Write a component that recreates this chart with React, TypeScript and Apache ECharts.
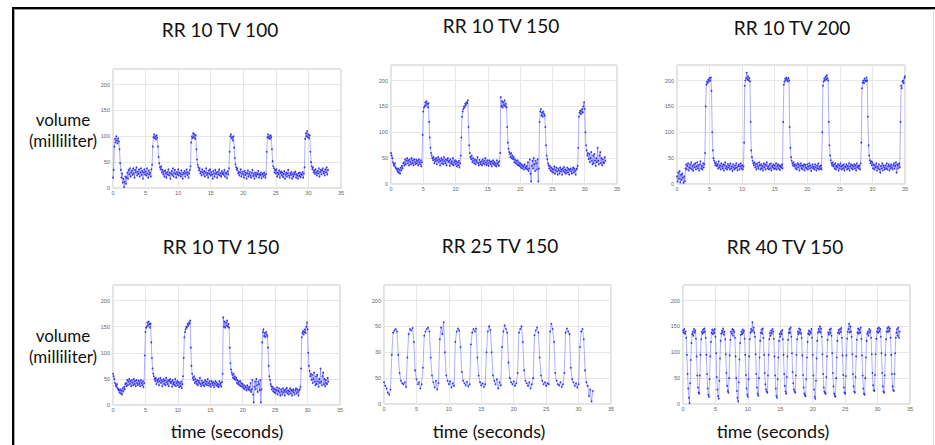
import React, { useEffect, useRef } from "react";
import * as echarts from "echarts";

// ---------- text content ----------
const PANEL_TITLES = ["RR 10 TV 100", "RR 10 TV 150", "RR 10 TV 200", "RR 10 TV 150", "RR 25 TV 150", "RR 40 TV 150"];
const Y_LABEL_LINES = ["volume", "(milliliter)"];
const X_LABEL = "time (seconds)";

// ---------- tick labels ----------
const Y_TICK_VALUES = [0, 50, 100, 150, 200];
const Y_TICK_LABELS_STD = ["0", "50", "100", "150", "200"];
const Y_TICK_LABELS_RR25 = ["0", "50", "30", "50", "200"]; // as printed in the reference
const X_TICK_LABELS = ["0", "5", "10", "15", "20", "25", "30", "35"];
const Y_MAX = 230;
const X_MAX = 35;

// ---------- sample spacing (seconds) ----------
const STEP_RR10 = 0.1;
const STEP_RR25 = 0.2;
const STEP_RR40 = 0.1;

// ---------- series values (milliliter), one row per second ----------
const rr10tv100 = [
  20, 35, 80, 95, 88, 100, 92, 86, 96, 90,
  75, 48, 35, 20, 28, 10, 18, 2, 12, 22,
  8, 20, 30, 18, 35, 26, 38, 22, 30, 34,
  25, 38, 28, 20, 35, 30, 40, 24, 32, 27,
  36, 22, 30, 38, 25, 33, 18, 30, 36, 26,
  32, 24, 38, 28, 20, 34, 26, 30, 22, 36,
  45, 80, 98, 104, 96, 100, 94, 102, 97, 80,
  60, 48, 40, 36, 42, 30, 35, 26, 32, 22,
  34, 28, 20, 31, 26, 36, 24, 30, 18, 28,
  33, 25, 38, 22, 29, 35, 27, 20, 31, 26,
  36, 24, 30, 28, 22, 34, 26, 18, 30, 27,
  33, 22, 29, 36, 25, 31, 20, 28, 35, 42,
  88, 100, 96, 106, 98, 104, 95, 102, 75, 55,
  45, 40, 34, 38, 28, 32, 24, 36, 30, 26,
  33, 22, 30, 38, 25, 29, 20, 34, 27, 36,
  24, 31, 26, 18, 33, 28, 22, 35, 27, 30,
  20, 32, 26, 36, 24, 29, 22, 33, 27, 30,
  25, 35, 22, 30, 28, 19, 33, 26, 38, 70,
  100, 104, 96, 98, 92, 100, 78, 58, 46, 40,
  35, 38, 28, 32, 24, 30, 36, 22, 28, 32,
  26, 20, 33, 25, 30, 18, 28, 34, 22, 27,
  31, 24, 20, 29, 35, 23, 27, 18, 30, 25,
  22, 29, 26, 33, 20, 27, 24, 30, 19, 26,
  28, 22, 30, 25, 20, 27, 70, 98, 104, 96,
  100, 95, 102, 98, 75, 52, 42, 38, 30, 35,
  28, 36, 22, 30, 26, 34, 20, 29, 32, 24,
  30, 21, 27, 33, 18, 26, 30, 22, 28, 35,
  24, 20, 29, 25, 31, 18, 27, 22, 30, 26,
  32, 20, 27, 24, 18, 29, 23, 30, 21, 27,
  25, 31, 20, 28, 40, 95, 106, 100, 110, 98,
  104, 96, 102, 70, 50, 42, 36, 40, 30, 34,
  27, 36, 30, 24, 33, 28, 38, 22, 31, 35,
  26, 34, 38, 28, 32, 24, 36, 30, 40, 26,
  35,
];

const rr10tv150 = [
  60, 55, 50, 42, 38, 35, 40, 32, 30, 28,
  24, 30, 22, 28, 20, 32, 26, 35, 30, 40,
  42, 36, 48, 38, 45, 50, 40, 46, 36, 48,
  43, 38, 50, 40, 46, 36, 48, 42, 38, 47,
  40, 45, 36, 48, 42, 38, 46, 34, 42, 95,
  140, 148, 150, 158, 152, 160, 155, 148, 156, 120,
  90, 70, 60, 55, 50, 46, 52, 40, 48, 44,
  50, 38, 46, 52, 42, 48, 36, 45, 50, 40,
  47, 38, 52, 44, 40, 48, 36, 46, 50, 42,
  45, 35, 48, 40, 44, 38, 50, 36, 42, 46,
  38, 44, 34, 42, 36, 45, 32, 40, 55, 90,
  130, 140, 145, 150, 148, 155, 152, 158, 156, 162,
  110, 75, 60, 52, 48, 55, 42, 50, 45, 40,
  48, 38, 46, 42, 52, 40, 36, 47, 42, 38,
  44, 36, 48, 40, 45, 38, 50, 42, 37, 46,
  40, 35, 46, 42, 38, 44, 34, 41, 46, 38,
  43, 36, 40, 34, 46, 38, 42, 35, 44, 60,
  168, 150, 160, 148, 158, 152, 162, 150, 155, 148,
  110, 80, 68, 62, 58, 52, 60, 50, 55, 48,
  52, 42, 48, 40, 45, 38, 46, 36, 42, 35,
  40, 32, 38, 30, 36, 34, 28, 38, 32, 30,
  35, 28, 42, 25, 30, 48, 20, 5, 35, 45,
  30, 50, 38, 25, 45, 40, 28, 48, 5, 30,
  120, 140, 145, 132, 138, 130, 140, 135, 132, 110,
  75, 55, 48, 40, 36, 30, 35, 26, 32, 24,
  30, 22, 28, 34, 20, 27, 32, 24, 18, 30,
  26, 20, 32, 24, 28, 18, 30, 25, 33, 22,
  28, 20, 26, 32, 22, 29, 18, 27, 30, 24,
  20, 28, 32, 22, 30, 25, 18, 28, 30, 35,
  70, 130, 138, 142, 135, 140, 145, 138, 150, 158,
  145, 100, 75, 65, 55, 60, 48, 58, 42, 50,
  62, 45, 38, 55, 40, 58, 45, 35, 50, 42,
  70, 45, 38, 55, 62, 40, 50, 36, 48, 42,
  40, 52, 45,
];

const rr10tv200 = [
  15, 5, 22, 10, 25, 3, 18, 8, 20, 12,
  2, 15, 5, 30, 38, 28, 35, 40, 26, 32,
  38, 30, 42, 28, 35, 25, 38, 32, 40, 28,
  34, 42, 30, 36, 26, 38, 44, 30, 35, 28,
  40, 32, 38, 60, 150, 192, 198, 195, 202, 198,
  205, 200, 206, 180, 100, 65, 50, 45, 40, 36,
  42, 35, 38, 30, 44, 32, 36, 28, 40, 34,
  30, 38, 26, 36, 42, 30, 34, 28, 39, 32,
  36, 28, 40, 30, 34, 25, 38, 32, 28, 36,
  30, 40, 32, 26, 35, 38, 28, 34, 40, 30,
  36, 28, 34, 80, 190, 200, 205, 215, 202, 208,
  200, 205, 198, 120, 65, 52, 45, 40, 36, 42,
  32, 38, 28, 40, 34, 30, 42, 36, 28, 38,
  30, 35, 26, 40, 32, 38, 28, 36, 42, 30,
  34, 28, 38, 30, 40, 26, 35, 32, 38, 29,
  36, 30, 40, 28, 34, 38, 30, 36, 27, 35,
  32, 38, 30, 120, 192, 198, 204, 200, 206, 202,
  198, 205, 200, 110, 70, 52, 45, 40, 36, 42,
  34, 38, 30, 36, 28, 40, 32, 38, 26, 35,
  40, 30, 36, 28, 34, 38, 26, 37, 32, 30,
  38, 28, 34, 40, 30, 36, 25, 33, 38, 30,
  34, 28, 38, 32, 26, 36, 30, 40, 28, 34,
  30, 36, 28, 100, 190, 198, 204, 200, 207, 202,
  210, 204, 200, 120, 75, 55, 46, 40, 36, 42,
  34, 38, 30, 40, 28, 35, 32, 38, 26, 36,
  30, 40, 34, 28, 36, 30, 38, 26, 34, 32,
  38, 28, 35, 30, 40, 26, 34, 38, 30, 36,
  28, 34, 38, 30, 36, 26, 40, 32, 35, 30,
  36, 28, 40, 80, 185, 196, 200, 195, 204, 200,
  198, 206, 200, 130, 75, 55, 46, 40, 44, 36,
  42, 30, 38, 28, 36, 32, 40, 26, 34, 30,
  38, 28, 22, 35, 30, 40, 26, 36, 32, 28,
  36, 30, 40, 28, 34, 38, 26, 35, 30, 38,
  32, 28, 36, 40, 30, 35, 42, 22, 38, 30,
  36, 40, 32, 120, 190, 185, 198, 200, 195, 205,
  208,
];

const rr25tv150 = [
  42, 35, 30, 22, 18,
  28, 95, 138, 142, 145,
  140, 95, 60, 45, 40,
  38, 42, 33, 90, 135,
  145, 142, 147, 120, 65,
  48, 38, 42, 30, 38,
  70, 132, 140, 145, 148,
  140, 90, 55, 42, 32,
  45, 28, 40, 125, 148,
  135, 158, 100, 55, 45,
  38, 44, 32, 40, 35,
  120, 140, 146, 142, 110,
  62, 45, 40, 36, 43,
  34, 38, 115, 138, 145,
  140, 146, 90, 55, 42,
  36, 40, 33, 38, 100,
  140, 150, 143, 100, 55,
  45, 38, 48, 30, 42,
  36, 110, 140, 152, 145,
  138, 80, 50, 42, 38,
  44, 35, 40, 60, 138,
  145, 150, 120, 65, 45,
  40, 35, 42, 30, 38,
  50, 133, 142, 148, 138,
  90, 55, 45, 38, 42,
  35, 40, 38, 140, 155,
  145, 120, 60, 45, 38,
  36, 42, 33, 38, 60,
  138, 146, 140, 135, 70,
  48, 42, 35, 40, 32,
  38, 110, 140, 145, 125,
  65, 42, 35, 15, 28,
  5, 25,
];

const rr40tv150 = [
  142, 138, 145, 136, 140, 128, 95, 58, 30, 12,
  2, 40, 85, 118, 135, 140, 132, 145, 138, 142,
  126, 92, 55, 32, 22, 20, 55, 95, 125, 140,
  136, 144, 138, 146, 140, 128, 95, 58, 30, 18,
  14, 48, 92, 120, 138, 144, 135, 142, 137, 145,
  130, 98, 52, 28, 15, 10, 45, 88, 122, 136,
  142, 138, 146, 134, 140, 125, 96, 60, 35, 25,
  22, 50, 94, 124, 140, 136, 145, 132, 143, 139,
  128, 92, 50, 25, 12, 5, 42, 86, 118, 134,
  140, 135, 144, 138, 142, 126, 95, 56, 30, 18,
  14, 48, 92, 125, 138, 145, 140, 158, 142, 148,
  138, 130, 96, 58, 32, 20, 16, 50, 90, 122,
  138, 144, 136, 146, 128, 95, 60, 38, 28, 24,
  22, 55, 95, 125, 138, 132, 142, 136, 145, 140,
  126, 92, 55, 30, 16, 12, 48, 90, 122, 136,
  130, 140, 135, 143, 125, 95, 58, 35, 24, 20,
  52, 92, 124, 138, 145, 137, 148, 130, 98, 62,
  40, 28, 24, 22, 55, 95, 125, 140, 135, 146,
  138, 144, 136, 128, 94, 56, 32, 20, 17, 15,
  48, 90, 120, 136, 142, 134, 140, 137, 145, 128,
  95, 55, 28, 14, 10, 45, 88, 122, 138, 145,
  140, 150, 138, 146, 130, 96, 58, 32, 24, 21,
  20, 52, 92, 124, 138, 134, 144, 137, 146, 132,
  98, 60, 34, 20, 16, 14, 50, 90, 122, 138,
  143, 136, 145, 139, 147, 128, 94, 56, 32, 22,
  20, 54, 94, 126, 140, 145, 155, 138, 150, 140,
  130, 96, 58, 34, 24, 22, 52, 92, 124, 138,
  146, 136, 144, 138, 148, 126, 94, 55, 30, 20,
  18, 50, 90, 122, 136, 140, 132, 145, 138, 142,
  128, 96, 60, 36, 27, 25, 56, 96, 126, 140,
  146, 138, 148, 140, 145, 130, 98, 60, 34, 24,
  22, 55, 95, 125, 140, 147, 139, 149, 141, 146,
  128, 95, 58, 34, 27, 25, 58, 98, 128, 138,
  145, 132, 148, 128, 140,
];

const PANEL_VALUES = [rr10tv100, rr10tv150, rr10tv200, rr10tv150, rr25tv150, rr40tv150];
const PANEL_STEPS = [STEP_RR10, STEP_RR10, STEP_RR10, STEP_RR10, STEP_RR25, STEP_RR40];
const PANEL_Y_LABELS = [Y_TICK_LABELS_STD, Y_TICK_LABELS_STD, Y_TICK_LABELS_STD, Y_TICK_LABELS_STD, Y_TICK_LABELS_RR25, Y_TICK_LABELS_STD];

// ---------- layout ----------
const GRIDS = [
  { left: 113, top: 69, width: 228, height: 119 },
  { left: 391, top: 65, width: 226, height: 119 },
  { left: 677, top: 65, width: 228, height: 119 },
  { left: 113, top: 285, width: 227, height: 120 },
  { left: 384, top: 285, width: 227, height: 119 },
  { left: 683, top: 285, width: 227, height: 119 },
];
const TITLE_POS = [
  [220, 29], [501, 25], [792, 27],
  [221, 246], [500, 245], [785, 246],
];
const FONT = "Lato, 'Open Sans', 'Noto Sans', sans-serif";

function buildOption() {
  const grid = GRIDS.map((g) => ({
    ...g,
    show: true,
    borderColor: "#c4c4c4",
    borderWidth: 1,
    backgroundColor: "#fff",
    containLabel: false,
  }));
  const xAxis = GRIDS.map((_, i) => ({
    type: "value",
    gridIndex: i,
    min: 0,
    max: X_MAX,
    interval: 5,
    axisLine: { show: false },
    axisTick: { show: false },
    splitLine: { show: true, lineStyle: { color: "#e6e6e6", width: 1 } },
    axisLabel: {
      fontSize: 5.5,
      color: "#666",
      margin: 2,
      fontFamily: "Liberation Sans, sans-serif",
      formatter: (v: number) => {
        const idx = Math.round(v / 5);
        return Math.abs(v - idx * 5) < 1e-6 && X_TICK_LABELS[idx] !== undefined ? X_TICK_LABELS[idx] : "";
      },
    },
  }));
  const yAxis = GRIDS.map((_, i) => ({
    type: "value",
    gridIndex: i,
    min: 0,
    max: Y_MAX,
    interval: 50,
    axisLine: { show: false },
    axisTick: { show: false },
    splitLine: { show: true, lineStyle: { color: "#e6e6e6", width: 1 } },
    axisLabel: {
      fontSize: 5.5,
      color: "#666",
      margin: 3,
      fontFamily: "Liberation Sans, sans-serif",
      formatter: (v: number) => {
        const idx = Y_TICK_VALUES.indexOf(v);
        return idx >= 0 ? PANEL_Y_LABELS[i][idx] : "";
      },
    },
  }));
  const series = PANEL_VALUES.map((vals, i) => ({
    type: "line",
    xAxisIndex: i,
    yAxisIndex: i,
    data: vals.map((v, k) => [Number((k * PANEL_STEPS[i]).toFixed(2)), v]),
    showSymbol: true,
    symbol: "circle",
    symbolSize: 1.8,
    itemStyle: { color: "rgba(30,30,235,0.85)" },
    lineStyle: { color: "rgba(90,90,255,0.55)", width: 0.9 },
    silent: true,
  }));

  const texts: any[] = [];
  PANEL_TITLES.forEach((t, i) => {
    texts.push({
      type: "text",
      x: TITLE_POS[i][0],
      y: TITLE_POS[i][1],
      style: {
        text: t,
        fontSize: 19,
        fontFamily: FONT,
        fill: "#111",
        align: "center",
        verticalAlign: "middle",
        textAlign: "center",
        textVerticalAlign: "middle",
      },
    });
  });
  [
    [119, 140],
    [335, 356],
  ].forEach((ys) => {
    Y_LABEL_LINES.forEach((line, j) => {
      texts.push({
        type: "text",
        x: 63,
        y: ys[j],
        style: {
          text: line,
          fontSize: 17,
          fontFamily: FONT,
          fill: "#111",
          align: "center",
          verticalAlign: "middle",
          textAlign: "center",
          textVerticalAlign: "middle",
        },
      });
    });
  });
  [227, 489, 773].forEach((cx) => {
    texts.push({
      type: "text",
      x: cx,
      y: 431,
      style: {
        text: X_LABEL,
        fontSize: 18,
        fontFamily: FONT,
        fill: "#111",
        align: "center",
        verticalAlign: "middle",
        textAlign: "center",
        textVerticalAlign: "middle",
      },
    });
  });
  const frame = [
    { type: "line", shape: { x1: 12, y1: 8, x2: 935, y2: 8 }, style: { stroke: "#000", lineWidth: 2 } },
    { type: "line", shape: { x1: 12, y1: 9.5, x2: 935, y2: 9.5 }, style: { stroke: "#999", lineWidth: 1 } },
    { type: "line", shape: { x1: 13, y1: 7, x2: 13, y2: 445 }, style: { stroke: "#000", lineWidth: 2 } },
    { type: "line", shape: { x1: 14.5, y1: 9, x2: 14.5, y2: 445 }, style: { stroke: "#aaa", lineWidth: 1 } },
    { type: "line", shape: { x1: 933.5, y1: 9, x2: 933.5, y2: 445 }, style: { stroke: "#ddd", lineWidth: 1 } },
  ];

  return {
    animation: false,
    backgroundColor: "#fff",
    grid,
    xAxis,
    yAxis,
    series,
    graphic: { elements: [...frame, ...texts] },
  };
}

export default function App() {
  const ref = useRef<HTMLDivElement>(null);
  useEffect(() => {
    if (!ref.current) return;
    const chart = echarts.init(ref.current, undefined, { renderer: "svg" });
    chart.setOption(buildOption() as any);
    return () => chart.dispose();
  }, []);
  return (
    <div
      ref={ref}
      style={{ position: "fixed", left: 0, top: 0, width: 935, height: 445, background: "#fff" }}
    />
  );
}
